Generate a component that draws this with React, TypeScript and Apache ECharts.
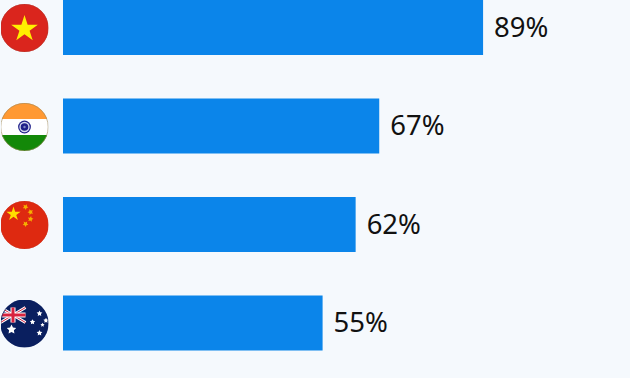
import React, { useEffect, useRef } from "react";
import * as echarts from "echarts";

const countries = ["Vietnam", "India", "China", "Australia"];
const shares = [89, 67, 62, 55];
const flagCentersY = [28, 127, 225, 323.5];

const star = (cx: number, cy: number, r: number, rot = 0, inner = 0.382) => {
  const pts: string[] = [];
  for (let i = 0; i < 10; i++) {
    const rad = i % 2 === 0 ? r : r * inner;
    const a = -Math.PI / 2 + rot + (i * Math.PI) / 5;
    pts.push(`${(cx + rad * Math.cos(a)).toFixed(2)},${(cy + rad * Math.sin(a)).toFixed(2)}`);
  }
  return pts.join(" ");
};

const wrap = (body: string, ring: string) =>
  "data:image/svg+xml;charset=utf-8," +
  encodeURIComponent(
    `<svg xmlns="http://www.w3.org/2000/svg" width="96" height="96" viewBox="0 0 48 48"><defs><clipPath id="c"><circle cx="24" cy="24" r="24"/></clipPath></defs><g clip-path="url(#c)">${body}</g><circle cx="24" cy="24" r="23.7" fill="none" stroke="${ring}" stroke-width="0.6"/></svg>`
  );

const vietnam = wrap(
  `<rect width="48" height="48" fill="#da251d"/><polygon points="${star(24, 25, 14)}" fill="#ffef00"/>`,
  "#b5392f"
);
const india = wrap(
  `<rect width="48" height="16" fill="#ff9933"/><rect y="16" width="48" height="16" fill="#fff"/><rect y="32" width="48" height="16" fill="#138808"/>
   <circle cx="24" cy="24" r="6.4" fill="#20208a"/><circle cx="24" cy="24" r="5.2" fill="#d5d9ee"/><circle cx="24" cy="24" r="3.8" fill="#20208a"/><circle cx="24" cy="24" r="1.2" fill="#8088c4"/>`,
  "#a08a5a"
);
const china = wrap(
  `<rect width="48" height="48" fill="#de2910"/><polygon points="${star(13, 13, 7.5)}" fill="#ffde00"/>
   <polygon points="${star(25, 6, 3, 0.5, 0.5)}" fill="#f5b000"/><polygon points="${star(30, 11, 3, 0.9, 0.5)}" fill="#f5b000"/>
   <polygon points="${star(30, 18, 3, 0.2, 0.5)}" fill="#f5b000"/><polygon points="${star(25, 23, 3, 0.6, 0.5)}" fill="#f5b000"/>`,
  "#d0331f"
);
const australia = wrap(
  `<rect width="48" height="48" fill="#0a1f5f"/>
   <g transform="translate(0,8)"><rect width="25" height="15" fill="#0a1f5f"/>
   <path d="M0 0L25 15M25 0L0 15" stroke="#fff" stroke-width="3"/><path d="M0 0L25 15M25 0L0 15" stroke="#d8233f" stroke-width="1"/>
   <path d="M12.5 0V15M0 7.5H25" stroke="#fff" stroke-width="5"/><path d="M12.5 0V15M0 7.5H25" stroke="#d8233f" stroke-width="3"/></g>
   <polygon points="${star(11, 30, 5, 0, 0.5)}" fill="#fff"/>
   <polygon points="${star(39, 14, 3, 0, 0.5)}" fill="#fff"/><polygon points="${star(45.5, 21, 2.8, 0, 0.5)}" fill="#fff"/>
   <polygon points="${star(32, 22.5, 2.8, 0, 0.5)}" fill="#fff"/><polygon points="${star(42, 25.5, 2.2, 0, 0.5)}" fill="#fff"/>
   <polygon points="${star(39, 33.5, 3, 0, 0.5)}" fill="#fff"/>`,
  "#0a1f5f"
);
const flags = [vietnam, india, china, australia];

export default function App() {
  const ref = useRef<HTMLDivElement>(null);
  useEffect(() => {
    document.body.style.margin = "0";
    document.body.style.background = "#f5f9fd";
    const chart = echarts.init(ref.current!, null, { renderer: "svg" });
    chart.setOption({
      animation: false,
      backgroundColor: "#f5f9fd",
      textStyle: { fontFamily: "'Noto Sans', 'Open Sans', sans-serif" },
      grid: { left: 63, top: 27.5, width: 472, height: 295.5 },
      xAxis: { type: "value", min: 0, max: 100, show: false },
      yAxis: {
        type: "category",
        data: countries,
        inverse: true,
        boundaryGap: false,
        axisLine: { show: false },
        axisTick: { show: false },
        axisLabel: { show: false },
      },
      series: [
        {
          type: "bar",
          data: shares,
          barWidth: 55,
          clip: false,
          itemStyle: { color: "#0b85ea" },
          label: {
            show: true,
            position: "right",
            distance: 11,
            offset: [0, -1.5],
            formatter: "{c}%",
            fontFamily: "'Noto Sans', 'Open Sans', sans-serif",
            fontSize: 27.5,
            color: "#111111",
          },
        },
      ],
      graphic: flags.map((image, i) => ({
        type: "image",
        x: 0.5,
        y: flagCentersY[i] - 24,
        style: { image, width: 48, height: 48 },
      })),
    });
    return () => chart.dispose();
  }, []);
  return <div ref={ref} style={{ width: 630, height: 378 }} />;
}
